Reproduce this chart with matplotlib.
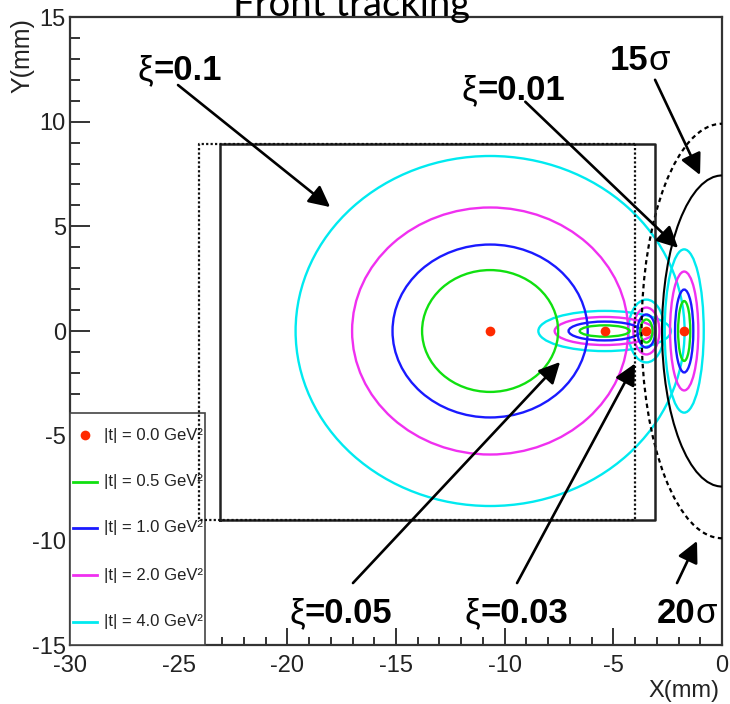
import matplotlib
matplotlib.use('Agg')
import matplotlib.pyplot as plt
from matplotlib.patches import Ellipse, Rectangle
from matplotlib.ticker import MultipleLocator

plt.rcParams['font.family'] = ['Liberation Sans', 'DejaVu Sans']
plt.rcParams['axes.unicode_minus'] = False

# ---------------- data ----------------
title = 'Front tracking'
x_label = 'X(mm)'
y_label = 'Y(mm)'

t_labels = ['|t| = 0.0 GeV²', '|t| = 0.5 GeV²', '|t| = 1.0 GeV²', '|t| = 2.0 GeV²', '|t| = 4.0 GeV²']
t_colors = ['#ff2a00', '#10e010', '#1a1aff', '#f030f0', '#00eaf0']

xi_labels = ['0.1', '0.05', '0.03', '0.01']
xi_center_x = [-10.67, -5.40, -3.48, -1.74]
xi_center_y = [0.0, 0.0, 0.0, 0.0]
# semi-axes (mm) of the contours for |t| = 0.5, 1, 2, 4 GeV^2, per xi
semi_x_t05 = [3.13, 1.15, 0.28, 0.28]
semi_x_t10 = [4.49, 1.66, 0.41, 0.42]
semi_x_t20 = [6.35, 2.30, 0.60, 0.65]
semi_x_t40 = [8.95, 3.05, 0.83, 0.90]
semi_y_t05 = [2.91, 0.27, 0.55, 1.43]
semi_y_t10 = [4.13, 0.45, 0.79, 1.98]
semi_y_t20 = [5.90, 0.67, 1.12, 2.84]
semi_y_t40 = [8.36, 0.96, 1.50, 3.90]

# beam envelopes
sigma_labels = ['15', '20']
sigma_semi_x = [2.76, 3.70]
sigma_semi_y = [7.43, 9.90]

# detector acceptance rectangles (x0, x1, y0, y1)
rect_solid = [-23.10, -3.08, -9.05, 8.95]
rect_dotted = [-24.06, -4.00, -9.05, 8.95]

# label anchor positions and arrows
xi_text_x = [-26.18, -19.19, -11.13, -11.26]
xi_text_y = [11.99, -13.95, -13.95, 11.04]
xi_arrow_start = [(-25.03, 11.75), (-16.98, -12.04), (-9.43, -12.04), (-9.05, 10.95)]
xi_arrow_end = [(-18.03, 5.92), (-7.45, -1.48), (-4.00, -1.55), (-2.02, 3.97)]
sigma_text_x = [-3.40, -1.24]
sigma_text_y = [12.47, -13.95]
sigma_arrow_start = [(-3.08, 12.00), (-2.07, -12.04)]
sigma_arrow_end = [(-1.01, 7.45), (-1.15, -10.03)]

legend_box = [-30.0, -23.79, -15.0, -3.92]
legend_entry_y = [-4.97, -7.21, -9.41, -11.66, -13.90]

# ---------------- figure ----------------
fig = plt.figure(figsize=(7.30, 7.04), dpi=100)
ax = fig.add_axes([70 / 730, 59 / 704, 652 / 730, 628 / 704])
ax.set_xlim(-30, 0)
ax.set_ylim(-15, 15)

frame_col = '#333333'
for s in ax.spines.values():
    s.set_color(frame_col)
    s.set_linewidth(1.6)

ax.xaxis.set_major_locator(MultipleLocator(5))
ax.xaxis.set_minor_locator(MultipleLocator(1))
ax.yaxis.set_major_locator(MultipleLocator(5))
ax.yaxis.set_minor_locator(MultipleLocator(1))
ax.tick_params(axis='both', which='both', direction='in', top=False, right=False,
               color=frame_col, width=1.4, labelsize=17, labelcolor='#222222')
ax.tick_params(axis='x', which='major', length=12.5, pad=7)
ax.tick_params(axis='x', which='minor', length=5.8)
ax.tick_params(axis='y', which='major', length=14.4, pad=3)
ax.tick_params(axis='y', which='minor', length=7.2)

# ellipses per xi
semi_x_all = [semi_x_t05, semi_x_t10, semi_x_t20, semi_x_t40]
semi_y_all = [semi_y_t05, semi_y_t10, semi_y_t20, semi_y_t40]
for k in range(3, -1, -1):
    for i in range(len(xi_labels)):
        ax.add_patch(Ellipse((xi_center_x[i], xi_center_y[i]),
                             2 * semi_x_all[k][i], 2 * semi_y_all[k][i],
                             fill=False, edgecolor=t_colors[k + 1], lw=1.7, zorder=3))
ax.plot(xi_center_x, xi_center_y, 'o', color=t_colors[0], ms=7, mec='none', zorder=5)

# beam envelopes
ax.add_patch(Ellipse((0, 0), 2 * sigma_semi_x[0], 2 * sigma_semi_y[0], fill=False,
                     edgecolor='k', lw=1.5, zorder=3))
ax.add_patch(Ellipse((0, 0), 2 * sigma_semi_x[1], 2 * sigma_semi_y[1], fill=False,
                     edgecolor='k', lw=1.6, ls=(0, (2, 1.6)), zorder=3))

# acceptance rectangles
x0, x1, y0, y1 = rect_solid
ax.plot([x0, x1, x1, x0, x0], [y0, y0, y1, y1, y0], color='#222222', lw=1.8, zorder=4)

# legend (drawn manually, ROOT style)
lx0, lx1, ly0, ly1 = legend_box
ax.add_patch(Rectangle((lx0, ly0), lx1 - lx0, ly1 - ly0, facecolor='white',
                       edgecolor='#444444', lw=1.2, zorder=6, clip_on=False))
for j, (lab, col, yy) in enumerate(zip(t_labels, t_colors, legend_entry_y)):
    if j == 0:
        ax.plot([-29.30], [yy], 'o', color=col, ms=7, mec='none', zorder=7)
    else:
        ax.plot([-29.86, -28.76], [yy, yy], color=col, lw=2.0, zorder=7)
    ax.text(-28.45, yy, lab, fontsize=12, va='center', ha='left', color='#222222', zorder=7)

x0, x1, y0, y1 = rect_dotted
ax.plot([x1, x0, x0, x1, x1], [y1, y1, y0, y0, y1], color='#111111', lw=1.6,
        ls=(0, (1, 1)), zorder=8)

# arrows and labels
arrow_kw = dict(arrowstyle='-|>,head_length=0.4,head_width=0.2', mutation_scale=32,
                color='k', lw=1.9, shrinkA=0, shrinkB=0)
for i, lab in enumerate(xi_labels):
    ax.annotate('', xy=xi_arrow_end[i], xytext=xi_arrow_start[i], arrowprops=arrow_kw, zorder=9)
    ax.text(xi_text_x[i], xi_text_y[i], 'ξ', fontsize=25, ha='right', va='baseline', zorder=9)
    ax.text(xi_text_x[i], xi_text_y[i], '=' + lab, fontsize=25, fontweight='bold',
            ha='left', va='baseline', zorder=9)
for i, lab in enumerate(sigma_labels):
    ax.annotate('', xy=sigma_arrow_end[i], xytext=sigma_arrow_start[i], arrowprops=arrow_kw, zorder=9)
    ax.text(sigma_text_x[i], sigma_text_y[i], lab, fontsize=25, fontweight='bold',
            ha='right', va='baseline', zorder=9)
    ax.text(sigma_text_x[i], sigma_text_y[i], 'σ', fontsize=25, ha='left', va='baseline', zorder=9)

# axis titles
fig.text(22 / 730, 1 - 18 / 704, y_label, rotation=90, ha='center', va='top',
         fontsize=18, color='#222222')
fig.text(719 / 730, 1 - 691 / 704, x_label, ha='right', va='center', fontsize=17, color='#222222')

# title (partly cut by the top edge, as in the original)
fig.text(352 / 730, 1 - 16 / 704, title, ha='center', va='baseline',
         fontsize=27.5, family=['Lato', 'DejaVu Sans'], color='black')

fig.savefig('out.png', dpi=100)
